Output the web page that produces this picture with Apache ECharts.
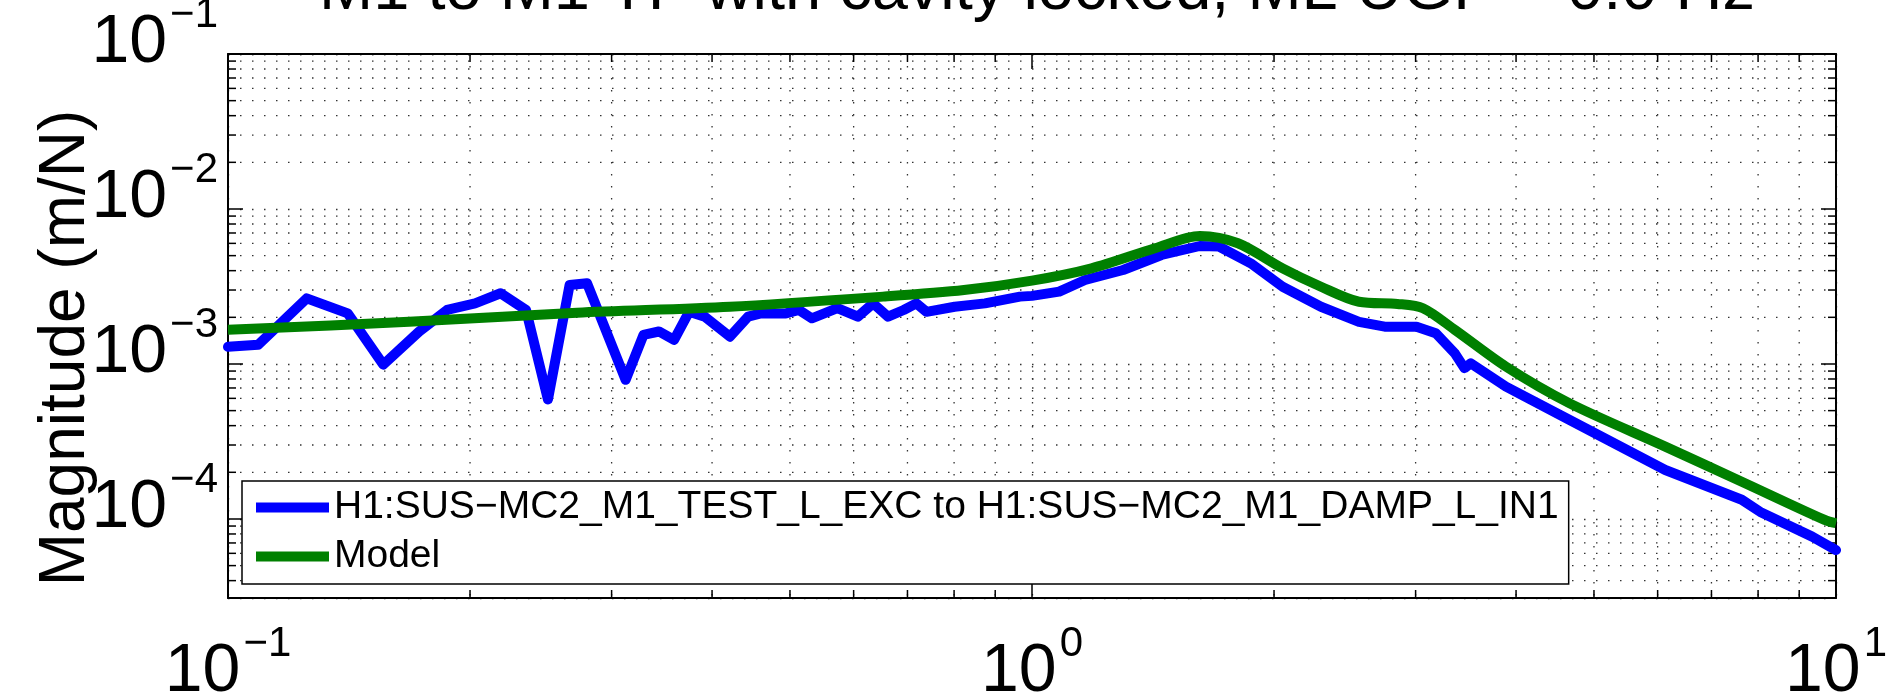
<!DOCTYPE html>
<html><head><meta charset="utf-8">
<script src="https://cdn.jsdelivr.net/npm/echarts@6/dist/echarts.min.js"></script>
<style>html,body{margin:0;padding:0;background:#fff}#c{width:1900px;height:699px}</style>
</head><body><div id="c"></div>
<script>
const titleText = 'M1 to M1 TF with cavity locked, ML UGF = 0.0 Hz';
const yAxisTitle = 'Magnitude (m/N)';
const seriesNames = ['H1:SUS\u2212MC2_M1_TEST_L_EXC to H1:SUS\u2212MC2_M1_DAMP_L_IN1', 'Model'];

const xRange = [0.1, 10];
const yRange = [3.09e-5, 0.1];
const xMinorTicks = [0.2,0.3,0.4,0.5,0.6,0.7,0.8,0.9,2,3,4,5,6,7,8,9];
const yMinorTicks = [4e-5,5e-5,6e-5,7e-5,8e-5,9e-5,
  2e-4,3e-4,4e-4,5e-4,6e-4,7e-4,8e-4,9e-4,
  2e-3,3e-3,4e-3,5e-3,6e-3,7e-3,8e-3,9e-3,
  2e-2,3e-2,4e-2,5e-2,6e-2,7e-2,8e-2,9e-2];

const measFreq = [0.1,0.109,0.1253,0.1409,0.156,0.1729,0.1873,0.2029,0.2183,0.2348,0.25,0.266,0.2796,0.3123,0.3287,0.3435,0.3588,0.3745,0.3916,0.421,0.4435,0.46,0.4943,0.5131,0.5323,0.5727,0.6073,0.6344,0.6622,0.6925,0.718,0.7393,0.8013,0.874,0.966,1.0,1.081,1.164,1.298,1.449,1.617,1.708,1.871,2.05,2.288,2.551,2.746,3.008,3.178,3.357,3.45,3.514,3.886,4.664,6.133,7.635,8.05,9.34,10];
const measMag = [1.29e-3,1.33e-3,2.65e-3,2.12e-3,9.9e-4,1.62e-3,2.23e-3,2.46e-3,2.86e-3,2.23e-3,5.9e-4,3.23e-3,3.32e-3,7.9e-4,1.54e-3,1.62e-3,1.43e-3,2.17e-3,2.02e-3,1.5e-3,2.02e-3,2.12e-3,2.12e-3,2.23e-3,1.97e-3,2.29e-3,2.02e-3,2.46e-3,2.02e-3,2.23e-3,2.46e-3,2.17e-3,2.34e-3,2.46e-3,2.72e-3,2.75e-3,2.93e-3,3.48e-3,4.04e-3,5.05e-3,5.77e-3,5.73e-3,4.46e-3,3.15e-3,2.34e-3,1.87e-3,1.74e-3,1.74e-3,1.58e-3,1.17e-3,9.4e-4,1.01e-3,7.14e-4,4.35e-4,2.07e-4,1.33e-4,1.11e-4,7.69e-5,6.3e-5];

const modelFreq = [0.1,0.1679,0.2717,0.421,0.6527,0.823,1.0,1.186,1.422,1.617,1.804,2.05,2.288,2.551,2.848,3.064,3.357,3.886,4.664,6.133,7.635,9.68,10];
const modelMag = [1.66e-3,1.87e-3,2.14e-3,2.34e-3,2.72e-3,3.0e-3,3.45e-3,4.14e-3,5.58e-3,6.7e-3,6.01e-3,4.14e-3,3.15e-3,2.52e-3,2.44e-3,2.29e-3,1.66e-3,9.61e-4,5.57e-4,2.93e-4,1.74e-4,9.86e-5,9.38e-5];

const FONT = '"Liberation Sans", Arial, sans-serif';

function pow10Label(v) {
  const l = Math.log10(v);
  const e = Math.round(l);
  if (Math.abs(l - e) > 1e-6) return '';
  const ex = e < 0 ? '\u2212' + (-e) : String(e);
  return '{hb|10}{s|' + ex + '}\n{b|10}{hs|' + ex + '}';
}
const labelRich = {
  hb: {fontSize: 68, fontFamily: FONT, color: 'rgba(0,0,0,0)', lineHeight: 10},
  s: {fontSize: 42, fontFamily: FONT, color: '#000', lineHeight: 10, padding: [0, 0, 0, 3]},
  b: {fontSize: 68, fontFamily: FONT, color: '#000', lineHeight: 46},
  hs: {fontSize: 42, fontFamily: FONT, color: 'rgba(0,0,0,0)', lineHeight: 46, padding: [0, 0, 0, 3]}
};

const gridItems = [];
yMinorTicks.forEach(v => gridItems.push([1, v, 0]));
xMinorTicks.forEach(v => gridItems.push([v, 1e-3, 1]));

const dotStyle = {stroke: '#333', lineWidth: 1.3, lineDash: [1.5, 10.5]};
const tickStyle = {stroke: '#000', lineWidth: 1.5};
const MINOR = 8;

const chart = echarts.init(document.getElementById('c'), null, {renderer: 'canvas'});
chart.setOption({
  animation: false,
  backgroundColor: '#fff',
  title: {
    text: titleText, left: 1032, textAlign: 'center', top: -46,
    textStyle: {fontSize: 65, fontWeight: 'normal', fontFamily: FONT, color: '#000'}
  },
  grid: {left: 228, right: 64, top: 54, bottom: 101, containLabel: false, outerBoundsMode: 'none'},
  legend: {
    data: seriesNames, orient: 'vertical', left: 242, top: 481,
    itemWidth: 73, itemHeight: 10, itemGap: 0, icon: 'rect',
    padding: [2, 10, 3, 14], borderColor: '#000', borderWidth: 1.5, backgroundColor: '#fff',
    textStyle: {fontFamily: FONT, fontSize: 39, color: '#000', lineHeight: 49},
    z: 10
  },
  xAxis: [{
    type: 'log', logBase: 10, min: xRange[0], max: xRange[1], position: 'bottom',
    axisLine: {show: true, lineStyle: {color: '#000', width: 2}},
    axisTick: {show: true, inside: true, length: 15, lineStyle: {color: '#000', width: 1.5}},
    axisLabel: {formatter: pow10Label, rich: labelRich, margin: 41},
    splitLine: {show: true, lineStyle: {color: '#333', width: 1.3, type: [1.5, 10.5]}},
    minorTick: {show: false}
  }, {
    type: 'log', logBase: 10, min: xRange[0], max: xRange[1], position: 'top',
    axisLine: {show: true, lineStyle: {color: '#000', width: 2}},
    axisTick: {show: true, inside: true, length: 15, lineStyle: {color: '#000', width: 1.5}},
    axisLabel: {show: false}, splitLine: {show: false}
  }],
  yAxis: [{
    type: 'log', logBase: 10, min: yRange[0], max: yRange[1], position: 'left',
    name: yAxisTitle, nameLocation: 'middle', nameGap: 130, nameRotate: 90, nameMoveOverlap: false,
    nameTextStyle: {fontSize: 64, fontFamily: FONT, color: '#000', padding: [0, 44, 0, 0]},
    axisLine: {show: true, lineStyle: {color: '#000', width: 2}},
    axisTick: {show: true, inside: true, length: 15, lineStyle: {color: '#000', width: 1.5}},
    axisLabel: {formatter: pow10Label, rich: labelRich, margin: 10, showMinLabel: false, padding: [0, 0, 32, 0]},
    splitLine: {show: true, lineStyle: {color: '#333', width: 1.3, type: [1.5, 10.5]}}
  }, {
    type: 'log', logBase: 10, min: yRange[0], max: yRange[1], position: 'right',
    axisLine: {show: true, lineStyle: {color: '#000', width: 2}},
    axisTick: {show: true, inside: true, length: 15, lineStyle: {color: '#000', width: 1.5}},
    axisLabel: {show: false}, splitLine: {show: false}
  }],
  series: [{
    type: 'custom', silent: true, z: 1, xAxisIndex: 0, yAxisIndex: 0,
    data: gridItems, encode: {x: 0, y: 1}, clip: false,
    renderItem: function (params, api) {
      const cs = params.coordSys;
      const kind = api.value(2);
      if (kind === 0) {
        const y = api.coord([1, api.value(1)])[1];
        return {type: 'group', children: [
          {type: 'line', shape: {x1: cs.x, y1: y, x2: cs.x + cs.width, y2: y}, style: dotStyle},
          {type: 'line', shape: {x1: cs.x, y1: y, x2: cs.x + MINOR, y2: y}, style: tickStyle},
          {type: 'line', shape: {x1: cs.x + cs.width - MINOR, y1: y, x2: cs.x + cs.width, y2: y}, style: tickStyle}
        ]};
      }
      const x = api.coord([api.value(0), 1e-3])[0];
      return {type: 'group', children: [
        {type: 'line', shape: {x1: x, y1: cs.y, x2: x, y2: cs.y + cs.height}, style: dotStyle},
        {type: 'line', shape: {x1: x, y1: cs.y, x2: x, y2: cs.y + MINOR}, style: tickStyle},
        {type: 'line', shape: {x1: x, y1: cs.y + cs.height - MINOR, x2: x, y2: cs.y + cs.height}, style: tickStyle}
      ]};
    }
  }, {
    name: seriesNames[0], type: 'line', xAxisIndex: 0, yAxisIndex: 0, z: 3,
    data: measFreq.map((f, i) => [f, measMag[i]]),
    showSymbol: false, symbol: 'none', color: '#0000ff',
    lineStyle: {color: '#0000ff', width: 10, join: 'round', cap: 'round'}
  }, {
    name: seriesNames[1], type: 'line', xAxisIndex: 0, yAxisIndex: 0, z: 4,
    data: modelFreq.map((f, i) => [f, modelMag[i]]),
    showSymbol: false, symbol: 'none', smooth: 0.3, color: '#008000',
    lineStyle: {color: '#008000', width: 10, join: 'round'}
  }]
});
</script></body></html>
